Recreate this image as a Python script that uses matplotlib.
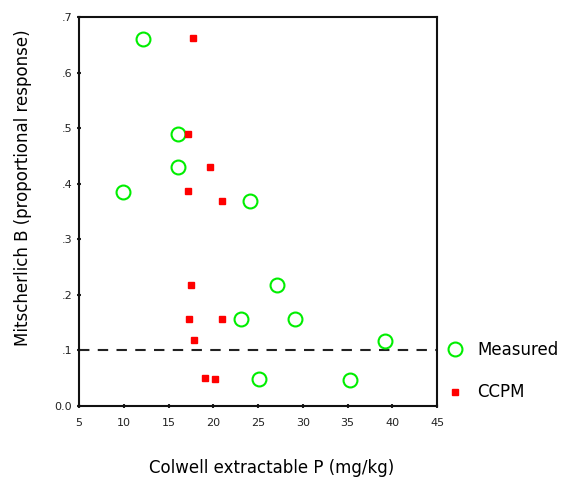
import matplotlib
matplotlib.use("Agg")
import matplotlib.pyplot as plt

plt.rcParams["font.family"] = ["DejaVu Sans"]

# Measured values (Colwell P, Mitscherlich B)
measured_x = [12.2, 16.1, 16.1, 9.9, 24.1, 27.1, 23.1, 29.1, 39.2, 25.1, 35.3]
measured_y = [0.66, 0.49, 0.43, 0.385, 0.369, 0.217, 0.157, 0.157, 0.117, 0.049, 0.047]

# CCPM predictions
ccpm_x = [17.7, 17.2, 19.6, 17.2, 21.0, 17.5, 17.3, 21.0, 17.9, 19.1, 20.2]
ccpm_y = [0.662, 0.49, 0.43, 0.387, 0.369, 0.218, 0.157, 0.157, 0.119, 0.05, 0.049]

x_ticks = [5, 10, 15, 20, 25, 30, 35, 40, 45]
y_ticks = [0.0, 0.1, 0.2, 0.3, 0.4, 0.5, 0.6, 0.7]
y_tick_labels = ["0.0", ".1", ".2", ".3", ".4", ".5", ".6", ".7"]
threshold = 0.1

fig = plt.figure(figsize=(5.7, 4.79), dpi=100)
ax = fig.add_axes([0.1386, 0.1524, 0.6281, 0.8121])

ax.axhline(threshold, color="#222222", linestyle=(0, (5, 4)), linewidth=1.5, zorder=1)
ax.plot(measured_x, measured_y, linestyle="none", marker="o", markersize=10,
        markerfacecolor="none", markeredgecolor="#00ee00", markeredgewidth=1.5,
        label="Measured", zorder=3)
ax.plot(ccpm_x, ccpm_y, linestyle="none", marker="s", markersize=5,
        color="#ff0000", label="CCPM", zorder=3)

ax.set_xlim(5, 45)
ax.set_ylim(0, 0.7)
ax.set_xticks(x_ticks)
ax.set_yticks(y_ticks)
ax.set_yticklabels(y_tick_labels)
ax.tick_params(direction="inout", length=3, width=1.5, labelsize=8, colors="#222222")
ax.tick_params(axis="x", pad=7)

for s in ax.spines.values():
    s.set_linewidth(1.5)
    s.set_color("#111111")

ax.set_xlabel("Colwell extractable P (mg/kg)", fontsize=12)
ax.set_ylabel("Mitscherlich B (proportional response)", fontsize=12)
ax.xaxis.set_label_coords(0.539, -0.135)
ax.yaxis.set_label_coords(-0.13, 0.56)

ax.legend(loc="center left", bbox_to_anchor=(1.0, 0.089), frameon=False,
          fontsize=12, handletextpad=0.7, labelspacing=1.45, borderpad=0,
          handlelength=1.2)

fig.savefig("out.png", dpi=100)
